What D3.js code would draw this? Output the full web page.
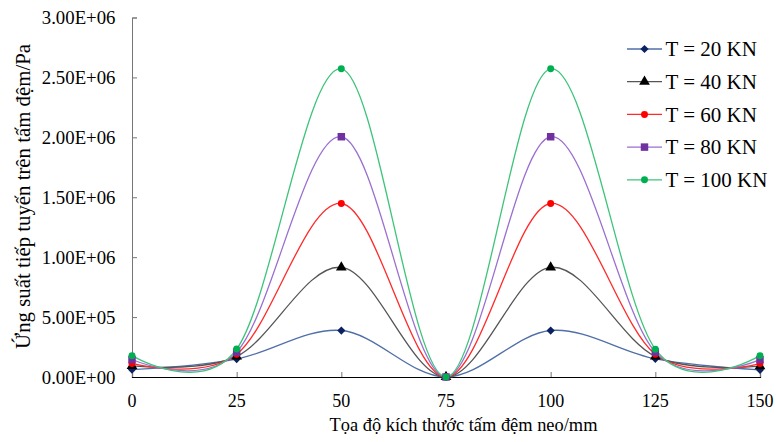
<!DOCTYPE html>
<html>
<head>
<meta charset="utf-8">
<script src="https://cdn.jsdelivr.net/npm/d3@7"></script>
<style>
  html, body { margin: 0; padding: 0; background: #fff; }
  svg { display: block; font-family: "Liberation Serif", "Times New Roman", serif; }
</style>
</head>
<body>
<svg id="chart" width="776" height="442"></svg>
<script>
// Positions along the anchor plate (mm)
const positions = [0, 25, 50, 75, 100, 125, 150];
const xTicks = [0, 25, 50, 75, 100, 125, 150];
const yTicks = [0, 500000, 1000000, 1500000, 2000000, 2500000, 3000000];

// Tangential stress (Pa) for each anchor force
const seriesNames = ["T = 20 KN", "T = 40 KN", "T = 60 KN", "T = 80 KN", "T = 100 KN"];
const stressT20  = [62000, 150000, 388000, 0, 388000, 152000, 60000];
const stressT40  = [92000, 172000, 915000, 0, 915000, 172000, 90000];
const stressT60  = [113000, 190000, 1448000, 0, 1448000, 190000, 112000];
const stressT80  = [146000, 208000, 2005000, 0, 2005000, 208000, 145000];
const stressT100 = [178000, 233000, 2572000, 0, 2572000, 232000, 178000];

const lineColors   = ["#4f6fa8", "#555555", "#ff2a2a", "#9b6fd0", "#3ec47a"];
const markerColors = ["#0b2161", "#000000", "#ff0000", "#7030a0", "#00b050"];
// diamond is drawn as a square turned 45 degrees
const markerShapes = [d3.symbolSquare, d3.symbolTriangle, d3.symbolCircle, d3.symbolSquare, d3.symbolCircle];
const markerRotate = [45, 0, 0, 0, 0];
const markerSizes  = [34, 50, 38, 56, 38];

const allSeries = [stressT20, stressT40, stressT60, stressT80, stressT100];

const svg = d3.select("#chart");
const plotLeft = 132, plotRight = 760, plotTop = 17.5, plotBottom = 377;

const x = d3.scaleLinear().domain([0, 150]).range([plotLeft, plotRight]);
const y = d3.scaleLinear().domain([0, 3000000]).range([plotBottom, plotTop]);

// Scientific notation like 5.00E+05
function sci(v) {
  if (v === 0) return "0.00E+00";
  const e = Math.floor(Math.log10(Math.abs(v)));
  const m = v / Math.pow(10, e);
  const es = (e < 0 ? "-" : "+") + String(Math.abs(e)).padStart(2, "0");
  return m.toFixed(2) + "E" + es;
}

// Y axis (ticks point into the plot)
const yAxis = d3.axisRight(y).tickValues(yTicks).tickSize(5).tickFormat("");
const gy = svg.append("g").attr("transform", `translate(${plotLeft},0)`).call(yAxis);
gy.select(".domain").attr("stroke", "#777").attr("stroke-width", 1);
gy.selectAll(".tick line").attr("stroke", "#777");

svg.append("g").selectAll("text").data(yTicks).join("text")
  .attr("x", 115.5).attr("y", d => y(d)).attr("dy", "0.35em")
  .attr("text-anchor", "end").attr("font-size", 18.8).attr("fill", "#000")
  .text(sci);

// X axis (ticks point up into the plot)
const xAxis = d3.axisTop(x).tickValues(xTicks).tickSize(5).tickFormat("");
const gx = svg.append("g").attr("transform", `translate(0,${y(0)})`).call(xAxis);
gx.select(".domain").attr("stroke", "#000").attr("stroke-width", 1.2);
gx.selectAll(".tick line").attr("stroke", "#777");

svg.append("g").selectAll("text").data(xTicks).join("text")
  .attr("x", d => x(d)).attr("y", 407)
  .attr("text-anchor", "middle").attr("font-size", 18).attr("fill", "#000")
  .text(d => d);

// Axis titles
svg.append("text")
  .attr("x", 463.5).attr("y", 431)
  .attr("text-anchor", "middle").attr("font-size", 18.4)
  .text("Tọa độ kích thước tấm đệm neo/mm");

svg.append("text")
  .attr("transform", "translate(30,196.5) rotate(-90)")
  .attr("text-anchor", "middle").attr("font-size", 20.8)
  .text("Ứng suất tiếp tuyến trên tấm đệm/Pa");

// Smoothed series lines
const line = d3.line()
  .x((d, i) => x(positions[i]))
  .y(d => y(d))
  .curve(d3.curveCardinal.tension(0));

const plot = svg.append("g");
allSeries.forEach((vals, si) => {
  plot.append("path")
    .datum(vals)
    .attr("d", line)
    .attr("fill", "none")
    .attr("stroke", lineColors[si])
    .attr("stroke-width", 1.3);
});
allSeries.forEach((vals, si) => {
  plot.append("g").selectAll("path").data(vals).join("path")
    .attr("transform", (d, i) => `translate(${x(positions[i])},${y(d)}) rotate(${markerRotate[si]})`)
    .attr("d", d3.symbol().type(markerShapes[si]).size(markerSizes[si]))
    .attr("fill", markerColors[si]);
});

// Legend
const legend = svg.append("g");
seriesNames.forEach((name, si) => {
  const ly = 49 + si * 32.7;
  legend.append("line")
    .attr("x1", 627).attr("x2", 662).attr("y1", ly).attr("y2", ly)
    .attr("stroke", lineColors[si]).attr("stroke-width", 1.3);
  legend.append("path")
    .attr("transform", `translate(644.5,${ly}) rotate(${markerRotate[si]})`)
    .attr("d", d3.symbol().type(markerShapes[si]).size(markerSizes[si]))
    .attr("fill", markerColors[si]);
  legend.append("text")
    .attr("x", 665.5).attr("y", ly).attr("dy", "0.35em")
    .attr("font-size", 21).attr("fill", "#000")
    .text(name);
});
</script>
</body>
</html>
